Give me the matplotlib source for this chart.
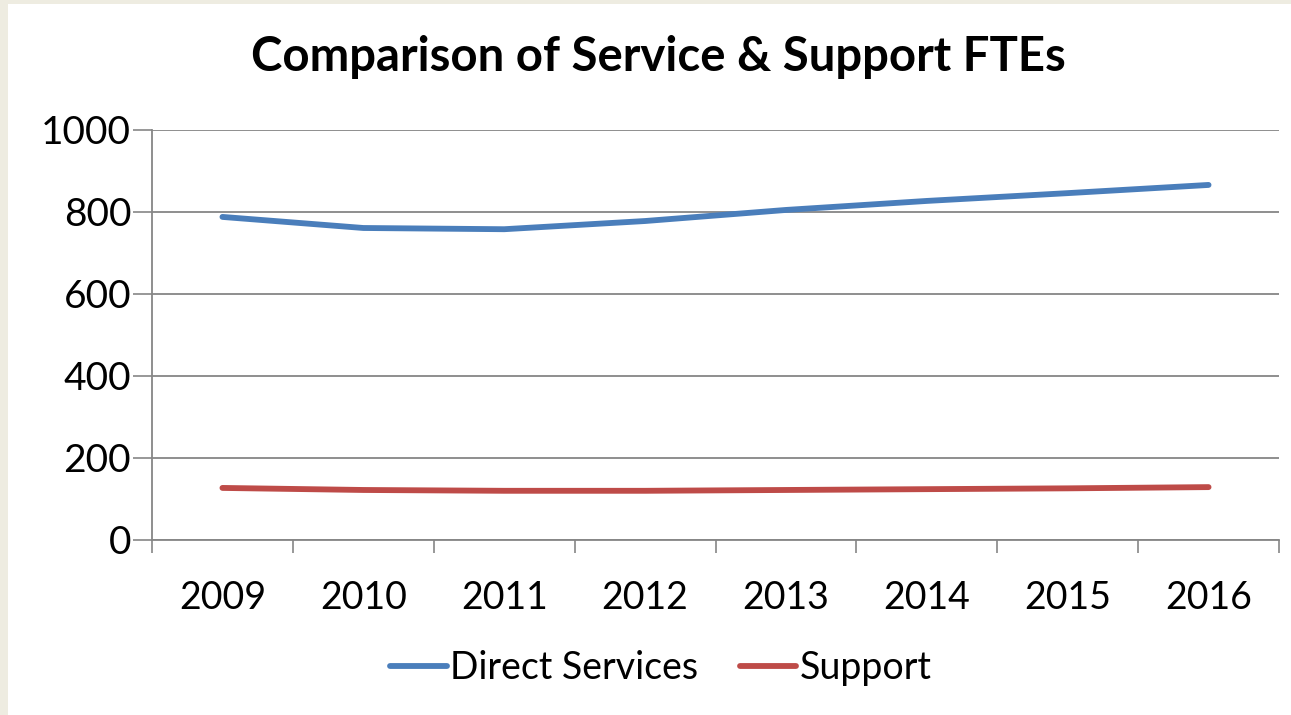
import numpy as np
import matplotlib.pyplot as plt
from matplotlib.patches import Rectangle

years = ["2009", "2010", "2011", "2012", "2013", "2014", "2015", "2016"]
direct_services = [788, 761, 758, 778, 805, 827, 846, 866]
support = [127, 122, 120, 120, 122, 124, 126, 129]

plt.rcParams['font.family'] = ['Lato', 'DejaVu Sans']

fig = plt.figure(figsize=(12.91, 7.15), dpi=100, facecolor="#EEECE1")
# white chart area over the beige page
fig.patches.append(Rectangle((8 / 1291, 0), 1, 1 - 4 / 715, transform=fig.transFigure,
                             facecolor="white", edgecolor="none", zorder=-10))

ax = fig.add_axes([152 / 1291, 1 - 540 / 715, (1279 - 152) / 1291, (540 - 130) / 715])
ax.set_facecolor("white")

x = np.arange(len(years))
ax.plot(x, direct_services, color="#4A7EBB", lw=4.2, solid_capstyle="round", label="Direct Services")
ax.plot(x, support, color="#BE4B48", lw=4.2, solid_capstyle="round", label="Support")

ax.set_xlim(-0.5, len(years) - 0.5)
ax.set_ylim(0, 1000)
ax.set_yticks(np.arange(0, 1001, 200))
ax.grid(axis="y", color="#868686", lw=1.3)
ax.set_axisbelow(True)

# category boundaries get the tick marks, labels sit in the middle
ax.set_xticks(np.arange(-0.5, len(years), 1))
ax.set_xticklabels([])
ax.set_xticks(x, minor=True)
ax.set_xticklabels(years, minor=True)
ax.tick_params(axis="x", which="major", length=9, width=1.2, color="#868686")
ax.tick_params(axis="x", which="minor", length=0, pad=29, labelsize=27)
ax.tick_params(axis="y", length=14, width=1.2, color="#868686", labelsize=28, pad=1)

for side in ["top", "right"]:
    ax.spines[side].set_visible(False)
for side in ["left", "bottom"]:
    ax.spines[side].set_color("#868686")
    ax.spines[side].set_linewidth(1.3)

fig.text(658 / 1291, 1 - 57 / 715, "Comparison of Service & Support FTEs",
         ha="center", va="center", fontsize=34, fontweight="bold")

fig.legend(loc="center", bbox_to_anchor=(661 / 1291, 1 - 668 / 715), ncol=2, frameon=False,
           fontsize=27, handlelength=1.5, handletextpad=0.1, columnspacing=1.1)

fig.savefig("out.png", dpi=100, facecolor=fig.get_facecolor())
